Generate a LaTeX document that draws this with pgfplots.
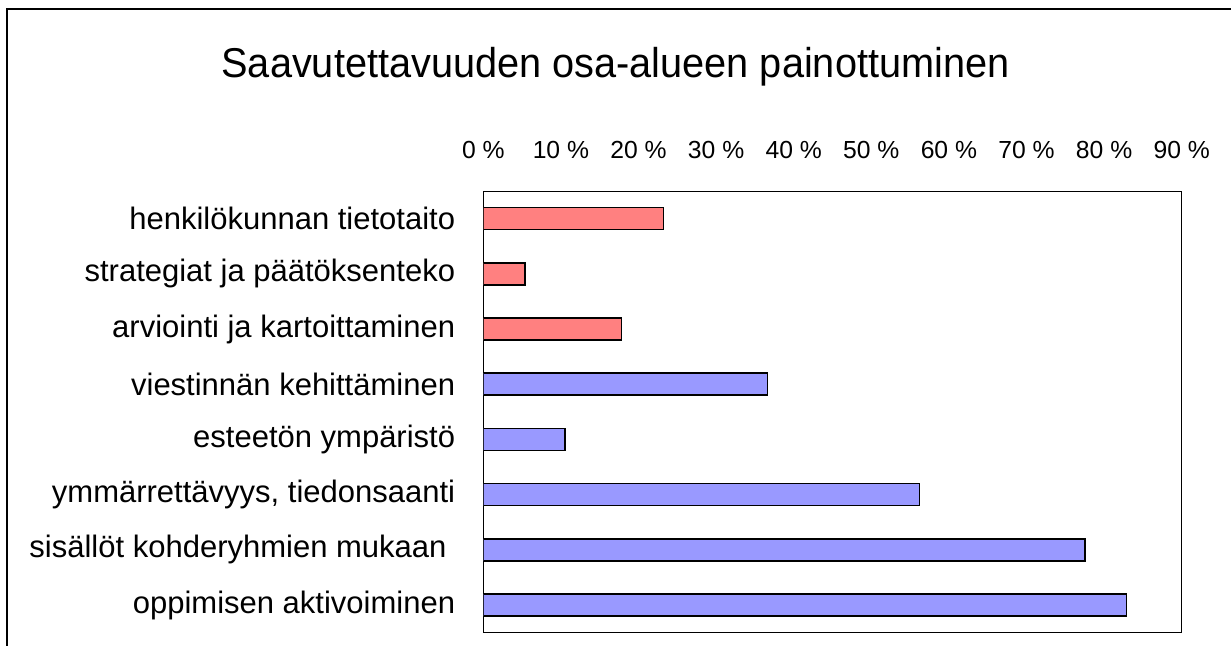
\documentclass[border=0pt]{standalone}
\usepackage{pgfplots}
\pgfplotsset{compat=1.18}
\usepackage{fontspec}
\setmainfont{Liberation Sans}
\definecolor{barred}{RGB}{255,128,128}
\definecolor{barblue}{RGB}{153,153,255}
\begin{document}
\begin{tikzpicture}[x=1bp,y=1bp]
\clip (0,0) rectangle (1231,646);
\draw[line width=1.2bp] (7,637) rectangle (1260,-20);
\node[font=\fontsize{39.7bp}{44bp}\selectfont, anchor=base, inner sep=0pt, yscale=1.05] at (615.5,568) {Saavutettavuuden osa-alueen painottuminen};
\begin{axis}[
  at={(483.3bp,13.3bp)}, anchor=south west, scale only axis,
  width=698.4bp, height=441.7bp,
  xmin=0, xmax=90, ymin=0.5, ymax=8.5, y dir=reverse,
  xbar, bar width=22bp, bar shift=0pt,
  xtick={0,10,...,90},
  xticklabels={0 \%,10 \%,20 \%,30 \%,40 \%,50 \%,60 \%,70 \%,80 \%,90 \%},
  xticklabel pos=right,
  ytick={1,...,8},
  yticklabels={henkilökunnan tietotaito,strategiat ja päätöksenteko,arviointi ja kartoittaminen,viestinnän kehittäminen,esteetön ympäristö,{ymmärrettävyys, tiedonsaanti},sisällöt kohderyhmien mukaan\hspace*{0.278em},oppimisen aktivoiminen},
  major tick length=0pt,
  axis line style={line width=0.8bp},
  xticklabel style={font=\fontsize{24.7bp}{28bp}\selectfont, anchor=base, inner sep=0pt, yshift=33bp},
  yticklabel style={font=\fontsize{31bp}{34bp}\selectfont, anchor=east, inner sep=0pt, xshift=-28bp},
]
\addplot[fill=barred, draw=black, line width=1.6bp] coordinates {(23.2,1) (5.4,2) (17.8,3)};
\addplot[fill=barblue, draw=black, line width=1.6bp] coordinates {(36.6,4) (10.5,5) (56.2,6) (77.5,7) (82.9,8)};
\end{axis}
\end{tikzpicture}
\end{document}
